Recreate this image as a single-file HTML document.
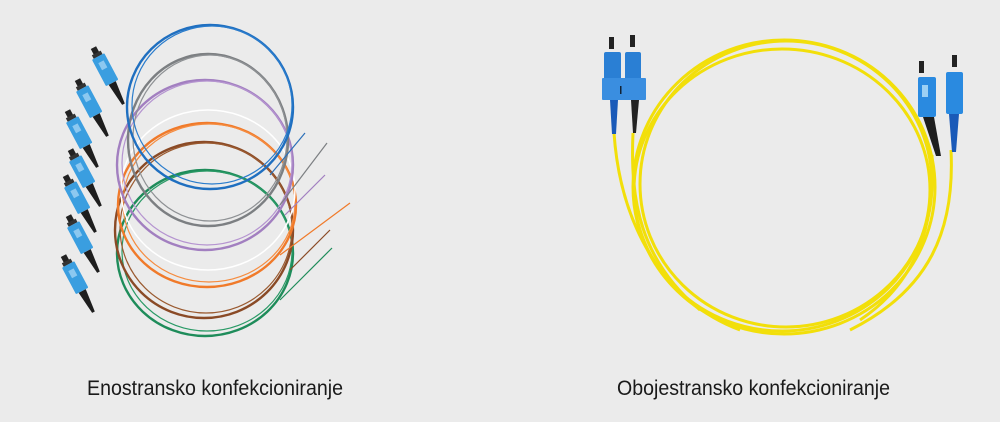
<!DOCTYPE html>
<html><head><meta charset="utf-8"><style>
html,body{margin:0;padding:0;background:#ebebeb;}
svg{display:block}
</style></head><body>
<svg width="1000" height="422" viewBox="0 0 1000 422" xmlns="http://www.w3.org/2000/svg">
<rect width="1000" height="422" fill="#ebebeb"/>
<defs>
<g id="sc">
  <rect x="-3" y="-14" width="6" height="8" fill="#222"/>
  <rect x="-5" y="-8" width="10" height="4" fill="#333"/>
  <rect x="-7" y="-4" width="14" height="30" rx="1" fill="#3a9ee0"/>
  <rect x="-3" y="2" width="6" height="8" fill="#8cc8f0"/>
  <polygon points="-4,26 4,26 1.5,50 -1.5,50" fill="#1e1e1e"/>
</g>
</defs>
<g fill="none" stroke-width="2.4">
  <ellipse cx="205" cy="253" rx="88" ry="83" stroke="#1e8c5a"/>
  <ellipse cx="207" cy="251" rx="85" ry="80" stroke="#2a9a66" stroke-width="1.2"/>
  <ellipse cx="204" cy="230" rx="89" ry="88" stroke="#8a4a26"/>
  <ellipse cx="206" cy="228" rx="86" ry="85" stroke="#9a5a30" stroke-width="1.2"/>
  <ellipse cx="207" cy="205" rx="89" ry="82" stroke="#f07a2a"/>
  <ellipse cx="209" cy="203" rx="86" ry="79" stroke="#f58c40" stroke-width="1.2"/>
  <ellipse cx="208" cy="190" rx="87" ry="80" stroke="#ffffff" stroke-width="1.5"/>
  <ellipse cx="205" cy="165" rx="88" ry="85" stroke="#a27fc0"/>
  <ellipse cx="207" cy="163" rx="85" ry="82" stroke="#b594d0" stroke-width="1.2"/>
  <ellipse cx="208" cy="140" rx="80" ry="86" stroke="#7c7f82"/>
  <ellipse cx="210" cy="138" rx="77" ry="83" stroke="#8e9194" stroke-width="1.2"/>
  <ellipse cx="210" cy="107" rx="83" ry="82" stroke="#1f6fc0"/>
  <ellipse cx="212" cy="105" rx="80" ry="79" stroke="#2a7ccc" stroke-width="1.2"/>
  <path d="M270 175 L305 133" stroke="#2a6fb8" stroke-width="1.2"/>
  <path d="M280 205 L327 143" stroke="#7c7f82" stroke-width="1.2"/>
  <path d="M285 215 L325 175" stroke="#a27fc0" stroke-width="1.2"/>
  <path d="M280 255 L350 203" stroke="#f07a2a" stroke-width="1.2"/>
  <path d="M290 270 L330 230" stroke="#8a4a26" stroke-width="1.2"/>
  <path d="M280 300 L332 248" stroke="#1e8c5a" stroke-width="1.2"/>
</g>
<g>
  <use href="#sc" transform="translate(100,60) rotate(-28)"/>
  <use href="#sc" transform="translate(84,92) rotate(-28)"/>
  <use href="#sc" transform="translate(74,123) rotate(-28)"/>
  <use href="#sc" transform="translate(77,162) rotate(-28)"/>
  <use href="#sc" transform="translate(72,188) rotate(-28)"/>
  <use href="#sc" transform="translate(75,228) rotate(-28)"/>
  <use href="#sc" transform="translate(70,268) rotate(-28)"/>
</g>
<g fill="none" stroke="#f2df0a" stroke-width="3">
  <ellipse cx="784" cy="187" rx="151" ry="147"/>
  <ellipse cx="786" cy="184" rx="146" ry="143"/>
  <ellipse cx="782" cy="190" rx="148" ry="141"/>
  <path d="M614 133 C620 220 660 300 740 330"/>
  <path d="M633 133 C630 200 640 260 700 310"/>
  <path d="M932 155 C935 220 920 280 860 320"/>
  <path d="M951 150 C955 230 930 290 850 330"/>
</g>
<g>
  <rect x="609" y="37" width="5" height="12" fill="#222"/>
  <rect x="630" y="35" width="5" height="12" fill="#222"/>
  <rect x="604" y="52" width="17" height="28" rx="2" fill="#2a7fd4"/>
  <rect x="625" y="52" width="16" height="28" rx="2" fill="#2a7fd4"/>
  <rect x="602" y="78" width="44" height="22" rx="1" fill="#3a8ee0"/>
  <rect x="620" y="86" width="1.5" height="8" fill="#123"/>
  <polygon points="610,100 618,100 616,134 612,134" fill="#1a5ab8"/>
  <polygon points="631,100 639,100 636,133 633,133" fill="#222"/>
</g>
<g>
  <rect x="919" y="61" width="5" height="12" fill="#222"/>
  <rect x="952" y="55" width="5" height="12" fill="#222"/>
  <rect x="918" y="77" width="18" height="40" rx="2" fill="#2a8ae0"/>
  <rect x="922" y="85" width="6" height="12" fill="#9cd0f4"/>
  <rect x="946" y="72" width="17" height="42" rx="2" fill="#2a8ae0"/>
  <polygon points="923,117 934,117 941,156 936,156" fill="#1e1e1e"/>
  <polygon points="949,114 959,114 956,152 952,152" fill="#1a5ab8"/>
</g>
<text x="87" y="395" font-family="Liberation Sans, sans-serif" font-size="21" fill="#1a1a1a" textLength="256" lengthAdjust="spacingAndGlyphs">Enostransko konfekcioniranje</text>
<text x="617" y="395" font-family="Liberation Sans, sans-serif" font-size="21" fill="#1a1a1a" textLength="273" lengthAdjust="spacingAndGlyphs">Obojestransko konfekcioniranje</text>
</svg>
</body></html>
